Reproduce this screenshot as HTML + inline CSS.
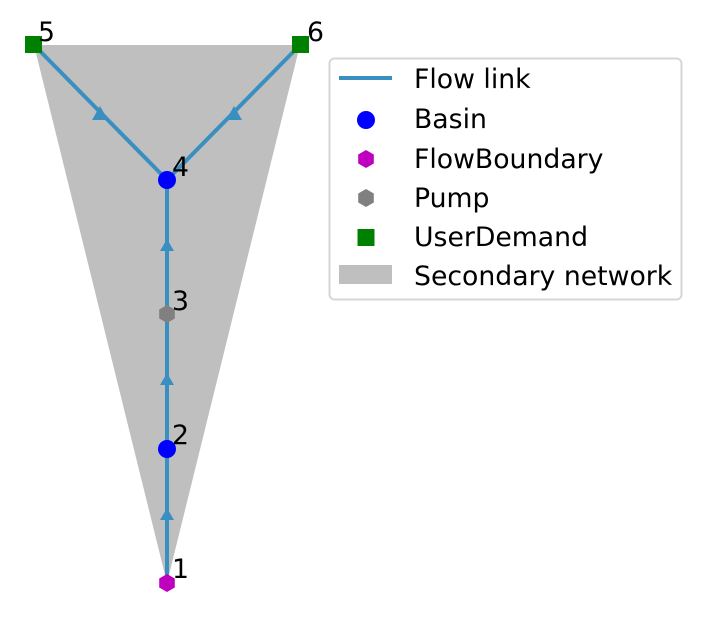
<!DOCTYPE html>
<html><head><style>
html,body{margin:0;padding:0;background:#fff;}
svg{display:block;}
text{font-family:"DejaVu Sans","Liberation Sans",sans-serif;}
</style></head><body>
<svg width="701" height="629" viewBox="0 0 701 629" xmlns="http://www.w3.org/2000/svg">
<polygon points="34,45 300,45 167,583" fill="#bfbfbf"/>
<g stroke="#3a8fc1" stroke-width="4" fill="none">
<line x1="167" y1="583" x2="167" y2="180"/>
<line x1="167" y1="180" x2="34" y2="45"/>
<line x1="167" y1="180" x2="300" y2="45"/>
</g>
<g fill="#3a8fc1">
<polygon transform="translate(167,515)" points="0,-7 -7,5 7,5"/>
<polygon transform="translate(167,380)" points="0,-7 -7,5 7,5"/>
<polygon transform="translate(167,246)" points="0,-7 -7,5 7,5"/>
<polygon transform="translate(100,114)" points="0,-8 -8,6 8,6"/>
<polygon transform="translate(234,114)" points="0,-8 -8,6 8,6"/>
</g>
<rect x="25" y="36" width="17" height="17" fill="#008000"/>
<rect x="292" y="36" width="17" height="17" fill="#008000"/>
<circle cx="167" cy="180" r="9" fill="#0000ff"/>
<circle cx="167" cy="449" r="9" fill="#0000ff"/>
<polygon transform="translate(167,314)" points="0,-9 7.8,-4.5 7.8,4.5 0,9 -7.8,4.5 -7.8,-4.5" fill="#808080"/>
<polygon transform="translate(167,583)" points="0,-9 7.8,-4.5 7.8,4.5 0,9 -7.8,4.5 -7.8,-4.5" fill="#bf00bf"/>
<g font-size="26.7" fill="#000">
<text x="38" y="41">5</text>
<text x="307" y="41">6</text>
<text x="172" y="176">4</text>
<text x="172" y="310">3</text>
<text x="172" y="444">2</text>
<text x="172" y="578">1</text>
</g>
<rect x="329.5" y="58.5" width="352" height="241" rx="5" fill="#fff" stroke="#d6d6d6" stroke-width="2"/>
<line x1="339" y1="78" x2="392" y2="78" stroke="#3a8fc1" stroke-width="4"/>
<circle cx="366" cy="120" r="9" fill="#0000ff"/>
<polygon transform="translate(366,159)" points="0,-9 7.8,-4.5 7.8,4.5 0,9 -7.8,4.5 -7.8,-4.5" fill="#bf00bf"/>
<polygon transform="translate(366,198)" points="0,-9 7.8,-4.5 7.8,4.5 0,9 -7.8,4.5 -7.8,-4.5" fill="#808080"/>
<rect x="357.5" y="229" width="17" height="17" fill="#008000"/>
<rect x="339" y="265" width="53" height="19" fill="#bfbfbf"/>
<g font-size="26.7" fill="#000">
<text x="414" y="88">Flow link</text>
<text x="414" y="128">Basin</text>
<text x="414" y="168">FlowBoundary</text>
<text x="414" y="207">Pump</text>
<text x="414" y="246">UserDemand</text>
<text x="414" y="285">Secondary network</text>
</g>
</svg>
</body></html>
